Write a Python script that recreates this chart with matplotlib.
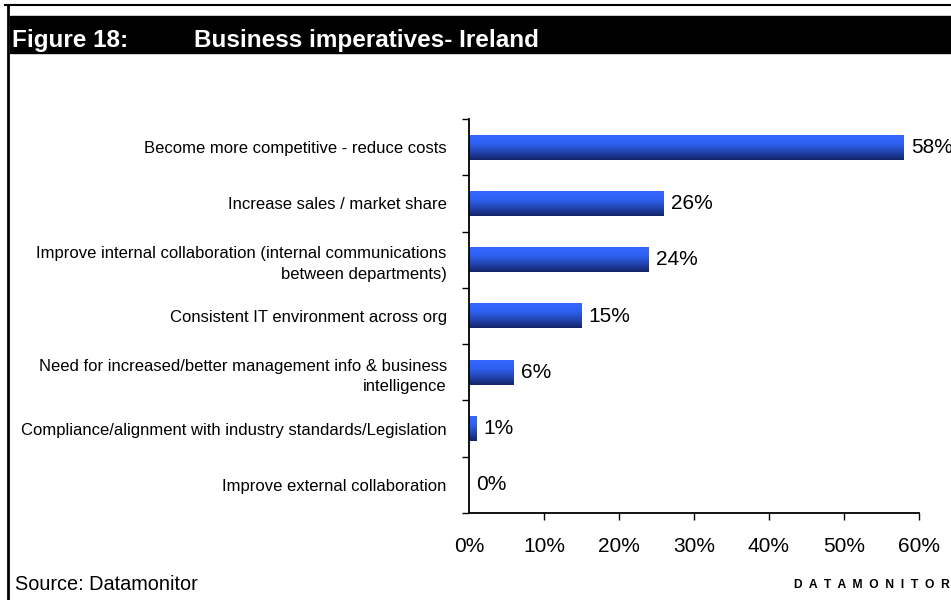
import numpy as np
import matplotlib.pyplot as plt
from matplotlib.colors import LinearSegmentedColormap
from matplotlib.patches import Rectangle
from matplotlib.lines import Line2D

plt.rcParams['font.family'] = ['Liberation Sans', 'DejaVu Sans']

# Survey data (share of respondents)
categories = [
    'Become more competitive - reduce costs',
    'Increase sales / market share',
    'Improve internal collaboration (internal communications\nbetween departments)',
    'Consistent IT environment across org',
    'Need for increased/better management info & business\nintelligence',
    'Compliance/alignment with industry standards/Legislation',
    'Improve external collaboration',
]
values = [58, 26, 24, 15, 6, 1, 0]
xticks = [0, 10, 20, 30, 40, 50, 60]
xtick_labels = ['0%', '10%', '20%', '30%', '40%', '50%', '60%']

fig = plt.figure(figsize=(9.51, 6.0), dpi=100)

# Report frame and black title band
fig.add_artist(Line2D([5 / 951, 1], [1 - 5 / 600] * 2, color='black', lw=1.5,
                      transform=fig.transFigure))
fig.add_artist(Line2D([7.5 / 951] * 2, [0, 1 - 5 / 600], color='black', lw=2,
                      transform=fig.transFigure))
fig.add_artist(Rectangle((10 / 951, 1 - 53 / 600), 1, 37 / 600, color='black',
                         transform=fig.transFigure))
fig.text(12 / 951, 1 - 40 / 600, 'Figure 18:', color='white', fontsize=17.5,
         fontweight='bold', va='center', ha='left')
fig.text(194 / 951, 1 - 40 / 600, 'Business imperatives- Ireland', color='white',
         fontsize=17.5, fontweight='bold', va='center', ha='left')

ax = fig.add_axes([469 / 951, 1 - 513 / 600, 450 / 951, 394 / 600])

y = np.arange(len(categories))
bars = ax.barh(y, values, height=0.44, color='none', edgecolor='none')

# vertical blue gradient fill for each bar
cmap = LinearSegmentedColormap.from_list(
    'bar_blue', [(0.0, '#3468ff'), (0.35, '#2f5ff0'), (0.7, '#2042ab'), (1.0, '#142468')])
grad = np.linspace(0, 1, 64).reshape(-1, 1)
for bar in bars:
    x0, y0 = bar.get_x(), bar.get_y()
    w, h = bar.get_width(), bar.get_height()
    if w <= 0:
        continue
    # bars are drawn on an inverted y axis, so the top edge is y0
    ax.imshow(grad, cmap=cmap, aspect='auto', extent=[x0, x0 + w, y0 + h, y0],
              interpolation='bilinear', zorder=2)

for yi, v in zip(y, values):
    ax.text(v + 0.9, yi, f'{v}%', va='center', ha='left', fontsize=15, clip_on=False)

ax.set_xlim(0, 60)
ax.set_ylim(len(categories) - 0.5, -0.5)

ax.set_xticks(xticks)
ax.set_xticklabels(xtick_labels, fontsize=15)
ax.tick_params(axis='x', direction='out', length=5, width=1, pad=12)
ax.xaxis.get_major_ticks()[0].tick1line.set_visible(False)

ax.set_yticks(y)
ax.set_yticklabels(categories, fontsize=12, ha='right', multialignment='right',
                   linespacing=1.47)
ax.tick_params(axis='y', which='major', length=0, pad=16)
ax.set_yticks(np.arange(-0.5, len(categories), 1.0), minor=True)
ax.tick_params(axis='y', which='minor', direction='out', length=5, width=1)

for side in ['top', 'right']:
    ax.spines[side].set_visible(False)
for side in ['left', 'bottom']:
    ax.spines[side].set_linewidth(1.3)

fig.text(15 / 951, 1 - 585 / 600, 'Source: Datamonitor', fontsize=14.3,
         va='center', ha='left')
fig.text(950 / 951, 1 - 585 / 600, 'D  A  T  A  M  O  N  I  T  O  R', fontsize=8.7,
         fontweight='bold', va='center', ha='right')

fig.savefig('out.png', dpi=100)
